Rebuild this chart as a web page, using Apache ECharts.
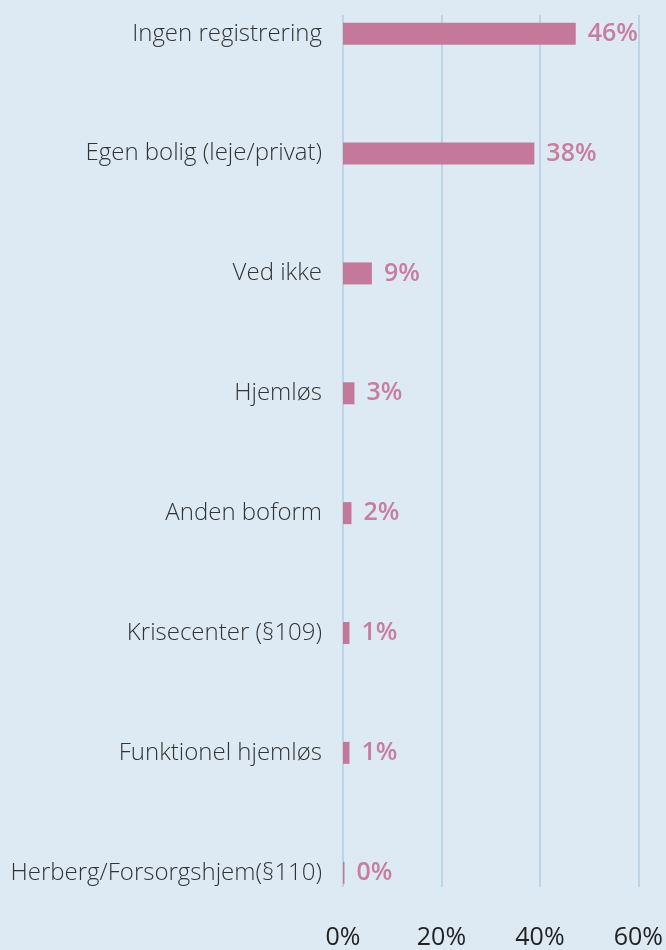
<!DOCTYPE html>
<html>
<head>
<meta charset="utf-8">
<script src="https://cdn.jsdelivr.net/npm/echarts@6/dist/echarts.min.js"></script>
<style>
  html, body { margin: 0; padding: 0; background: #ddeaf4; }
  #main { width: 666px; height: 950px; }
</style>
</head>
<body>
<div id="main"></div>
<script>
var categories = ['Ingen registrering', 'Egen bolig (leje/privat)', 'Ved ikke', 'Hjemløs',
    'Anden boform', 'Krisecenter (§109)', 'Funktionel hjemløs', 'Herberg/Forsorgshjem(§110)'];
// bar lengths as drawn (percent)
var values = [46.7, 38.4, 5.8, 2.3, 1.7, 1.3, 1.3, 0.3];
// labels printed next to the bars
var valueLabels = ['46%', '38%', '9%', '3%', '2%', '1%', '1%', '0%'];
var xTicks = [0, 20, 40, 60];

var chart = echarts.init(document.getElementById('main'));

var option = {
    backgroundColor: '#ddeaf4',
    textStyle: { fontFamily: 'Open Sans' },
    grid: [
        // bars: first/last category sit on the grid edges
        { left: 343, right: 24, top: 33.7, bottom: 77.3 },
        // gridlines + x labels
        { left: 343, right: 24, top: 15, bottom: 59 }
    ],
    xAxis: [{
        gridIndex: 0,
        type: 'value',
        min: xTicks[0],
        max: xTicks[xTicks.length - 1],
        interval: 20,
        show: false
    }, {
        gridIndex: 1,
        type: 'value',
        min: xTicks[0],
        max: xTicks[xTicks.length - 1],
        interval: 20,
        axisLine: { show: false },
        axisTick: { show: false },
        splitLine: {
            show: true,
            lineStyle: { color: '#bcd5e4', width: 2 }
        },
        axisLabel: {
            formatter: '{value}%',
            color: '#222',
            fontSize: 25,
            fontFamily: 'Open Sans',
            margin: 38
        }
    }],
    yAxis: [{
        gridIndex: 0,
        type: 'category',
        inverse: true,
        boundaryGap: false,
        data: categories,
        axisLine: { show: false },
        axisTick: { show: false },
        splitLine: { show: false },
        axisLabel: {
            color: '#333',
            fontSize: 24,
            fontWeight: 300,
            fontFamily: 'Open Sans',
            margin: 21
        }
    }, {
        gridIndex: 1,
        type: 'value',
        show: false
    }],
    series: [{
        type: 'bar',
        xAxisIndex: 0,
        yAxisIndex: 0,
        barWidth: 22,
        data: values,
        itemStyle: { color: '#c4789a' },
        label: {
            show: true,
            position: 'right',
            distance: 12,
            color: '#c97d9f',
            fontSize: 25,
            fontWeight: 600,
            fontFamily: 'Open Sans',
            formatter: function (p) { return valueLabels[p.dataIndex]; }
        },
        silent: true
    }]
};

chart.setOption(option);
</script>
</body>
</html>
